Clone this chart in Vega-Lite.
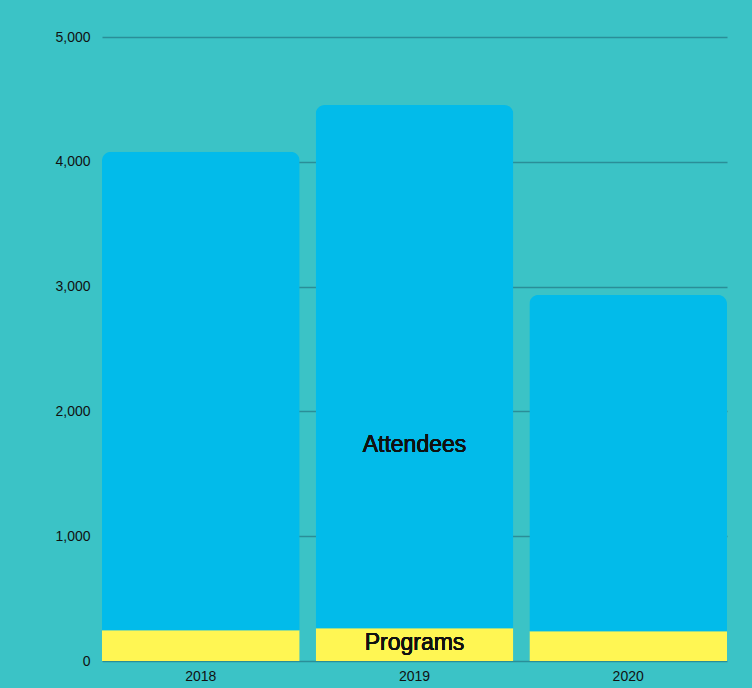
{
  "$schema": "https://vega.github.io/schema/vega-lite/v6.json",
  "width": 625,
  "height": 624,
  "autosize": {"type": "none"},
  "padding": {"left": 102, "top": 37, "right": 25, "bottom": 27},
  "background": "#3bc3c6",
  "config": {
    "view": {"stroke": null},
    "font": "Liberation Sans",
    "axis": {"labelFont": "Liberation Sans", "labelFontSize": 14, "labelColor": "#111111", "domain": false, "ticks": false, "title": null}
  },
  "data": {
    "values": [
      {"year": "2018", "category": "Programs", "value": 246, "ord": 0},
      {"year": "2018", "category": "Attendees", "value": 3834, "ord": 1},
      {"year": "2019", "category": "Programs", "value": 262, "ord": 0},
      {"year": "2019", "category": "Attendees", "value": 4193, "ord": 1},
      {"year": "2020", "category": "Programs", "value": 238, "ord": 0},
      {"year": "2020", "category": "Attendees", "value": 2695, "ord": 1}
    ]
  },
  "layer": [
    {
      "mark": {"type": "bar", "cornerRadiusEnd": 9},
      "encoding": {
        "x": {"field": "year", "type": "nominal", "scale": {"paddingInner": 0.075, "paddingOuter": 0}, "axis": {"labelAngle": 0, "labelPadding": 8, "grid": false}},
        "y": {"field": "value", "type": "quantitative", "stack": "zero", "scale": {"domain": [0, 5000]}, "axis": {"values": [0, 1000, 2000, 3000, 4000, 5000], "format": ",.0f", "labelPadding": 12, "grid": true, "gridColor": "#2a8e98", "gridWidth": 1.5}},
        "color": {"field": "category", "type": "nominal", "scale": {"domain": ["Attendees", "Programs"], "range": ["#02bbea", "#fff653"]}, "legend": null},
        "order": {"field": "ord", "type": "quantitative"}
      }
    },
    {
      "mark": {"type": "text", "fontSize": 23, "fontWeight": 400, "fill": "#111111", "strokeWidth": 0, "font": "Liberation Sans"},
      "encoding": {
        "x": {"datum": "2019", "type": "nominal"},
        "y": {"datum": 1730, "type": "quantitative"},
        "text": {"value": "Attendees"}
      }
    },
    {
      "mark": {"type": "text", "fontSize": 23, "fontWeight": 400, "fill": "#111111", "strokeWidth": 0, "font": "Liberation Sans"},
      "encoding": {
        "x": {"datum": "2019", "type": "nominal"},
        "y": {"datum": 145, "type": "quantitative"},
        "text": {"value": "Programs"}
      }
    }
  ]
}
